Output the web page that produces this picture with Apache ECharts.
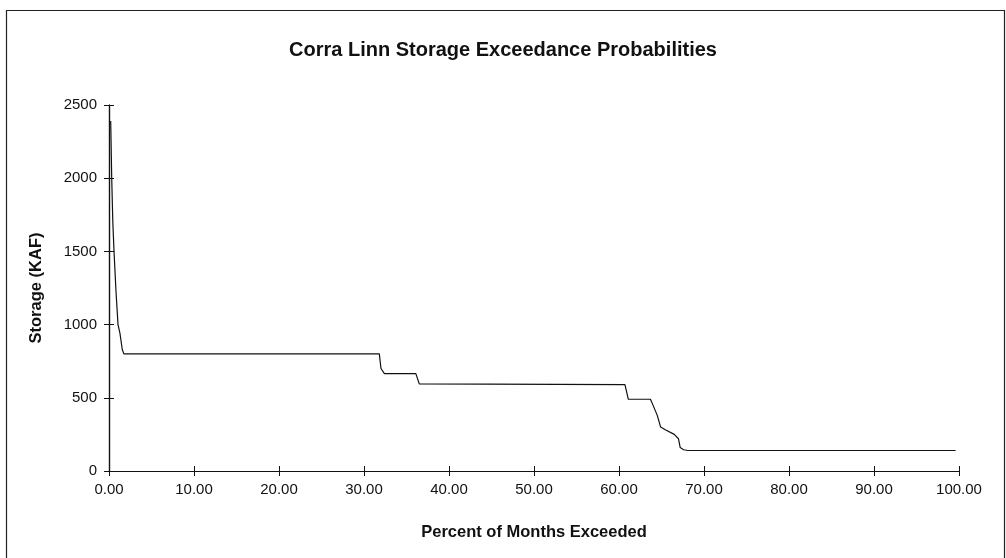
<!DOCTYPE html>
<html>
<head>
<meta charset="utf-8">
<script src="https://cdn.jsdelivr.net/npm/echarts@6/dist/echarts.min.js"></script>
<style>html,body{margin:0;padding:0;background:#fff;}#chart{width:1006px;height:558px;}</style>
</head>
<body>
<div id="chart"></div>
<script>
const titleText = "Corra Linn Storage Exceedance Probabilities";
const xName = "Percent of Months Exceeded";
const yName = "Storage (KAF)";
const percentExceeded = [0.2, 0.32, 0.45, 0.59, 0.82, 1.06, 1.29, 1.56, 1.75, 31.8, 32.0, 32.4, 36.1, 36.5, 60.7, 61.1, 63.7, 64.0, 64.5, 64.9, 65.5, 66.5, 67.0, 67.2, 67.6, 68.1, 99.6];
const storageKAF =      [2390, 2000, 1700, 1500, 1230, 1000, 940, 830, 800, 800, 700, 665, 665, 595, 590, 490, 490, 450, 380, 300, 280, 250, 220, 160, 145, 140, 140];

const seriesData = percentExceeded.map((p, i) => [p, storageKAF[i]]);
const font = 'Liberation Sans, Arial, Helvetica, sans-serif';
const chart = echarts.init(document.getElementById('chart'), null, {renderer: 'canvas'});

const axisLine = {show: true, lineStyle: {color: '#111', width: 1.2}};
const baseX = {
  type: 'value', min: 0, max: 100, interval: 10, position: 'bottom',
  axisLine: axisLine, splitLine: {show: false}
};
const baseY = {
  type: 'value', min: 0, max: 2500, interval: 500, position: 'left',
  axisLine: axisLine, splitLine: {show: false}
};

chart.setOption({
  backgroundColor: '#fff',
  animation: false,
  title: {
    text: titleText, left: 'center', top: 35,
    textStyle: {fontFamily: font, fontSize: 20, fontWeight: 'bold', color: '#111'}
  },
  grid: {left: 109, right: 47, top: 105, bottom: 87},
  xAxis: [
    Object.assign({}, baseX, {
      name: xName, nameLocation: 'middle', nameGap: 53,
      nameTextStyle: {fontFamily: font, fontSize: 16.5, fontWeight: 'bold', color: '#111'},
      axisTick: {show: true, length: 5, lineStyle: {color: '#111'}},
      axisLabel: {fontFamily: font, fontSize: 15, color: '#111', margin: 11, formatter: v => v.toFixed(2)}
    }),
    Object.assign({}, baseX, {
      axisTick: {show: true, inside: true, length: 5, lineStyle: {color: '#111'}},
      axisLabel: {show: false}
    })
  ],
  yAxis: [
    Object.assign({}, baseY, {
      name: yName, nameLocation: 'middle', nameGap: 64, nameRotate: 90,
      nameTextStyle: {fontFamily: font, fontSize: 16.5, fontWeight: 'bold', color: '#111'},
      axisTick: {show: true, length: 5, lineStyle: {color: '#111'}},
      axisLabel: {fontFamily: font, fontSize: 15, color: '#111', margin: 12, formatter: v => String(v)}
    }),
    Object.assign({}, baseY, {
      axisTick: {show: true, inside: true, length: 5, lineStyle: {color: '#111'}},
      axisLabel: {show: false}
    })
  ],
  graphic: [{
    type: 'rect', left: 4, top: 8, z: 100,
    shape: {width: 998, height: 548},
    style: {fill: 'none', stroke: '#222', lineWidth: 1.2}
  }],
  series: [{
    type: 'line', xAxisIndex: 0, yAxisIndex: 0,
    data: seriesData, showSymbol: false, symbol: 'none',
    lineStyle: {color: '#111', width: 1.2}
  }]
});
</script>
</body>
</html>
